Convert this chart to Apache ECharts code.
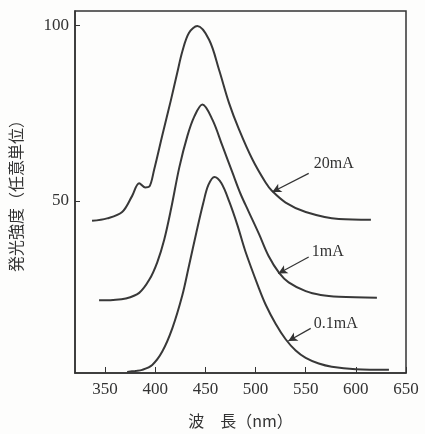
<!DOCTYPE html>
<html><head><meta charset="utf-8">
<script src="https://cdn.jsdelivr.net/npm/echarts@6/dist/echarts.min.js"></script>
<style>html,body{margin:0;padding:0;background:#fdfdfc;}#c{width:425px;height:434px;}</style>
</head><body><div id="c"></div>
<script>
// wavelength (nm) / intensity pairs
const wl20 = [337,352,367,377,384,390,394,399,407,415.5,422,427,433.7,442,453.7,463.6,473.6,483.5,496.8,510,516.5,530,550,583,615];
const v20  = [44.3,45.0,46.8,51.4,55.0,53.8,54.0,59.0,68.6,78.5,86.5,92.5,97.8,99.7,95.8,87.3,77.8,70.3,61.8,55.2,52.8,49.5,46.8,44.8,44.6];
const wl1  = [344,358,370.6,384,394,402,409,416,424,432,439,447,457,467,477,485,493,503.5,513,523.5,533,550,565,583,621];
const v1   = [21.7,21.8,22.2,23.8,27.5,32.5,39,48,59.5,68.4,74,77.4,73.1,65.6,58,52,47,40.5,34.3,29.5,26.8,24.3,23.2,22.7,22.4];
const wl01 = [372,380,387,397,407,417,427,433.7,441,448,453,459,466,474,482,490,503.5,510,520,530,540,550,563,576,600,633];
const v01  = [1.3,1.6,1.9,3.3,7.1,13.7,23.1,31.6,41,49.5,54.5,56.8,55,49.6,43,35.5,25,20.5,15,10.6,7.4,5.3,3.7,2.8,2.1,1.9];
const xTicks = [350,400,450,500,550,600,650];
const yTicks = [50,100];
const seriesNames = ['20mA','1mA','0.1mA'];
// annotation anchors: [text nm, text val, arrow start nm, start val, tip nm, tip val]
const notes = [
  [578,60.4,553,57.8,516.7,52.5],
  [572,35.4,553,34.0,522.7,29.3],
  [580,15.1,555,13.7,532.7,10.1]
];
const zip = (a,b)=>a.map((x,i)=>[x,b[i]]);
const datas = [zip(wl20,v20), zip(wl1,v1), zip(wl01,v01)];
const numFont = 'Liberation Serif';
const cjkFont = '"Noto Sans CJK JP"';
const series = datas.map((d,i)=>({
  type:'line', name:seriesNames[i], data:d, smooth:0.35, showSymbol:false,
  lineStyle:{color:'#383838', width:2}, silent:true,
  markLine:{silent:true, symbol:['none','arrow'], symbolSize:[7,9],
    lineStyle:{color:'#333', width:1.2, type:'solid'}, label:{show:false},
    data:[[{coord:[notes[i][2],notes[i][3]]},{coord:[notes[i][4],notes[i][5]]}]]},
  markPoint:{silent:true, symbol:'circle', symbolSize:0,
    label:{show:true, formatter:seriesNames[i], color:'#333', fontFamily:numFont, fontSize:16, position:'inside'},
    data:[{coord:[notes[i][0],notes[i][1]]}]}
}));
const chart = echarts.init(document.getElementById('c'));
chart.setOption({
  backgroundColor:'#fdfdfc',
  animation:false,
  grid:{left:75,right:19,top:11,bottom:59,show:true,borderColor:'#333',borderWidth:1.5,backgroundColor:'transparent'},
  xAxis:{type:'value',min:320,max:650,
    name:'波　長（nm）',nameLocation:'middle',nameGap:40,
    nameTextStyle:{fontFamily:cjkFont,fontSize:16,color:'#333'},
    axisLine:{show:true,onZero:false,lineStyle:{color:'#333',width:1.5}},
    axisTick:{show:true,inside:true,length:6,customValues:xTicks,lineStyle:{color:'#333'}},
    axisLabel:{customValues:xTicks,color:'#333',fontFamily:numFont,fontSize:17,margin:8},
    splitLine:{show:false}},
  yAxis:{type:'value',min:1,max:104,
    name:'発光強度（任意単位）',nameLocation:'middle',nameGap:51,nameRotate:90,
    nameTextStyle:{fontFamily:cjkFont,fontSize:16,color:'#333'},
    axisLine:{show:true,onZero:false,lineStyle:{color:'#333',width:1.5}},
    axisTick:{show:true,inside:true,length:5,customValues:yTicks,lineStyle:{color:'#333'}},
    axisLabel:{customValues:yTicks,color:'#333',fontFamily:numFont,fontSize:17,margin:6},
    splitLine:{show:false}},
  series:series
});
</script></body></html>
